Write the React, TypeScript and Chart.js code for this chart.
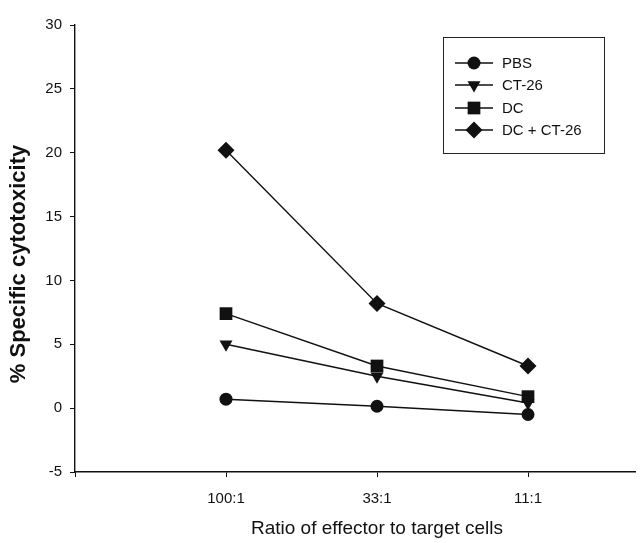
import React, { useEffect, useRef } from 'react';
import { Chart, registerables } from 'chart.js';

Chart.register(...registerables);

const categories = ['100:1', '33:1', '11:1'];
const pbsValues = [0.7, 0.15, -0.5];
const ct26Values = [5.0, 2.5, 0.4];
const dcValues = [7.4, 3.3, 0.9];
const dcCt26Values = [20.2, 8.2, 3.3];
const seriesLabels = ['PBS', 'CT-26', 'DC', 'DC + CT-26'];
const yTickValues = [-5, 0, 5, 10, 15, 20, 25, 30];
const yTitle = '% Specific cytotoxicity';
const xTitle = 'Ratio of effector to target cells';

const FONT = '"Liberation Sans", Arial, Helvetica, sans-serif';
const INK = '#111';

const toPoints = (vals: number[]) => vals.map((v, i) => ({ x: i + 1, y: v }));

type Marker = { style: string; radius: number; rotation: number };
const markers: Marker[] = [
  { style: 'circle', radius: 6.5, rotation: 0 },
  { style: 'triangle', radius: 7.5, rotation: 180 },
  { style: 'rect', radius: 9, rotation: 0 },
  { style: 'rectRot', radius: 8.5, rotation: 0 },
];

function drawMarker(ctx: CanvasRenderingContext2D, m: Marker, x: number, y: number) {
  ctx.beginPath();
  if (m.style === 'circle') {
    ctx.arc(x, y, m.radius, 0, Math.PI * 2);
  } else if (m.style === 'triangle') {
    const r = m.radius;
    const rot = (m.rotation * Math.PI) / 180;
    for (let k = 0; k < 3; k++) {
      const a = rot + (k * 2 * Math.PI) / 3;
      const px = x + Math.sin(a) * r;
      const py = y - Math.cos(a) * r;
      if (k === 0) ctx.moveTo(px, py);
      else ctx.lineTo(px, py);
    }
    ctx.closePath();
  } else if (m.style === 'rect') {
    const s = Math.SQRT1_2 * m.radius;
    ctx.rect(x - s, y - s, 2 * s, 2 * s);
  } else {
    const r = m.radius;
    ctx.moveTo(x - r, y);
    ctx.lineTo(x, y - r);
    ctx.lineTo(x + r, y);
    ctx.lineTo(x, y + r);
    ctx.closePath();
  }
  ctx.fill();
}

const legendPlugin = {
  id: 'boxLegend',
  afterDraw(chart: any) {
    const ctx: CanvasRenderingContext2D = chart.ctx;
    ctx.save();
    const bx = 435, by = 29, bw = 161, bh = 116;
    ctx.fillStyle = '#fff';
    ctx.fillRect(bx, by, bw, bh);
    ctx.strokeStyle = '#222';
    ctx.lineWidth = 1;
    ctx.strokeRect(bx + 0.5, by + 0.5, bw, bh);
    const rows = [55, 77, 100, 122];
    chart.data.datasets.forEach((ds: any, i: number) => {
      const y = rows[i];
      ctx.strokeStyle = INK;
      ctx.lineWidth = 1.4;
      ctx.beginPath();
      ctx.moveTo(447, y);
      ctx.lineTo(485, y);
      ctx.stroke();
      ctx.fillStyle = INK;
      drawMarker(ctx, markers[i], 466, y);
      ctx.font = `15px ${FONT}`;
      ctx.textBaseline = 'middle';
      ctx.textAlign = 'left';
      ctx.fillText(ds.label, 494, y + 1);
    });
    // rotated y-axis title
    ctx.translate(11, 256);
    ctx.rotate(-Math.PI / 2);
    ctx.font = `bold 22px ${FONT}`;
    ctx.textAlign = 'center';
    ctx.textBaseline = 'middle';
    ctx.fillStyle = INK;
    ctx.fillText(yTitle, 0, 0);
    ctx.restore();
  },
};

export default function App() {
  const ref = useRef<HTMLCanvasElement | null>(null);

  useEffect(() => {
    document.body.style.overflow = 'hidden';
    const seriesValues = [pbsValues, ct26Values, dcValues, dcCt26Values];
    const chart = new Chart(ref.current!, {
      type: 'line',
      data: {
        datasets: seriesValues.map((vals, i) => ({
          label: seriesLabels[i],
          data: toPoints(vals),
          borderColor: INK,
          backgroundColor: INK,
          borderWidth: 1.4,
          pointStyle: markers[i].style as any,
          pointRadius: markers[i].radius,
          pointRotation: markers[i].rotation,
          pointBorderWidth: 0,
          pointBackgroundColor: INK,
          tension: 0,
          fill: false,
        })),
      },
      options: {
        animation: false,
        responsive: false,
        maintainAspectRatio: false,
        layout: { padding: { left: 0, top: 14, right: 29, bottom: 0 } },
        plugins: {
          legend: { display: false },
          tooltip: { enabled: false },
        },
        scales: {
          x: {
            type: 'linear',
            min: 0,
            max: 4,
            afterBuildTicks: (scale: any) => {
              scale.ticks = [0, 1, 2, 3].map((v) => ({ value: v }));
            },
            afterFit: (scale: any) => {
              scale.height = 71;
            },
            ticks: {
              autoSkip: false,
              maxRotation: 0,
              padding: 13,
              color: INK,
              font: { family: FONT, size: 15 },
              callback: (v: any) => (v >= 1 && v <= categories.length ? categories[v - 1] : ''),
            },
            grid: {
              drawOnChartArea: false,
              drawTicks: true,
              tickLength: 5,
              color: INK,
              lineWidth: 1,
            },
            border: { display: true, color: INK, width: 1.4 },
            title: {
              display: true,
              text: xTitle,
              color: INK,
              font: { family: FONT, size: 19 },
              padding: { top: 0, bottom: 3 },
            },
          },
          y: {
            type: 'linear',
            min: -5,
            max: 30,
            afterBuildTicks: (scale: any) => {
              scale.ticks = yTickValues.map((v) => ({ value: v }));
            },
            afterFit: (scale: any) => {
              scale.width = 67;
            },
            ticks: {
              padding: 8,
              color: INK,
              font: { family: FONT, size: 15 },
            },
            grid: {
              drawOnChartArea: false,
              drawTicks: true,
              tickLength: 5,
              color: INK,
              lineWidth: 1,
            },
            border: { display: true, color: INK, width: 1.4 },
          },
        },
      },
      plugins: [legendPlugin],
    });
    return () => chart.destroy();
  }, []);

  return (
    <div style={{ width: 636, height: 535, overflow: 'hidden' }}>
      <canvas ref={ref} width={700} height={535} style={{ display: 'block' }} />
    </div>
  );
}
